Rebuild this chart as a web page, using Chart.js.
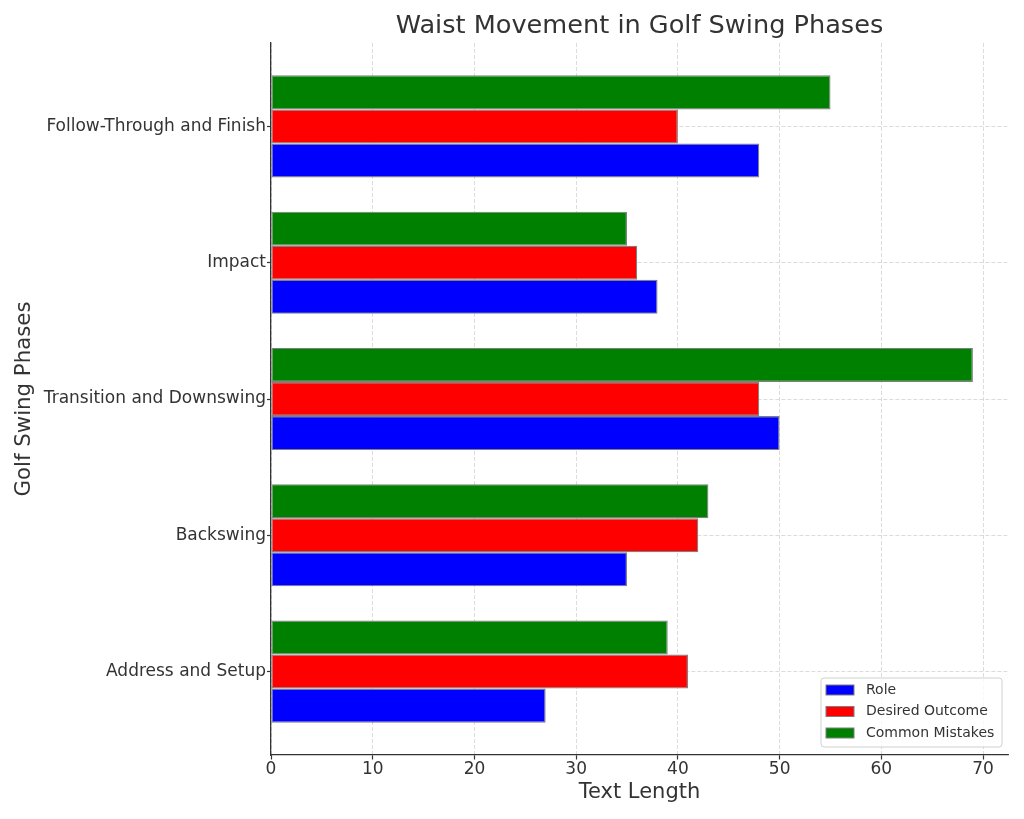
<!DOCTYPE html>
<html>
<head>
<meta charset="utf-8">
<script src="https://cdn.jsdelivr.net/npm/chart.js@4.4.1/dist/chart.umd.min.js"></script>
<style>
html, body { margin: 0; padding: 0; background: #fff; }
#wrap { width: 1024px; height: 819px; }
</style>
</head>
<body>
<div id="wrap"><canvas id="bars"></canvas></div>
<script>
// data, bottom category first
var phases = ['Address and Setup', 'Backswing', 'Transition and Downswing', 'Impact', 'Follow-Through and Finish'];
var role = [27, 35, 50, 38, 48];
var desiredOutcome = [41, 42, 48, 36, 40];
var commonMistakes = [39, 43, 69, 35, 55];
var xTicks = [0, 10, 20, 30, 40, 50, 60, 70];

var FONT = "'DejaVu Sans', sans-serif";
var INK = '#333';

function points(arr) {
    return arr.map(function (v, i) { return { x: v, y: i }; });
}

// title centred over the plot, like matplotlib
var plotTitle = {
    id: 'plotTitle',
    afterDraw: function (chart) {
        var ctx = chart.ctx, a = chart.chartArea;
        ctx.save();
        ctx.font = '25.6px ' + FONT;
        ctx.fillStyle = INK;
        ctx.textAlign = 'center';
        ctx.textBaseline = 'middle';
        ctx.fillText('Waist Movement in Golf Swing Phases', (a.left + a.right) / 2, 26);
        ctx.restore();
    }
};

// boxed legend in the lower right corner of the plot
var boxLegend = {
    id: 'boxLegend',
    afterDraw: function (chart) {
        var ctx = chart.ctx, a = chart.chartArea;
        var w = 181, h = 69;
        var x = a.right - 6 - w, y = a.bottom - 8 - h;
        ctx.save();
        ctx.beginPath();
        ctx.roundRect(x, y, w, h, 3);
        ctx.fillStyle = 'rgba(255,255,255,0.8)';
        ctx.fill();
        ctx.strokeStyle = '#d0d0d0';
        ctx.lineWidth = 1;
        ctx.stroke();
        var sets = chart.data.datasets.slice().reverse();
        ctx.font = '14px ' + FONT;
        ctx.textBaseline = 'middle';
        sets.forEach(function (ds, i) {
            var cy = y + 12 + i * 21.5;
            ctx.fillStyle = ds.backgroundColor;
            ctx.fillRect(x + 5, cy - 5, 28, 10);
            ctx.strokeStyle = '#7f7f7f';
            ctx.strokeRect(x + 5, cy - 5, 28, 10);
            ctx.fillStyle = INK;
            ctx.fillText(ds.label, x + 45, cy);
        });
        ctx.restore();
    }
};

var ctx = document.getElementById('bars').getContext('2d');
var chart = new Chart(ctx, {
    type: 'bar',
    data: {
        datasets: [
            { label: 'Common Mistakes', data: points(commonMistakes), backgroundColor: '#008000' },
            { label: 'Desired Outcome', data: points(desiredOutcome), backgroundColor: '#ff0000' },
            { label: 'Role', data: points(role), backgroundColor: '#0000ff' }
        ]
    },
    options: {
        indexAxis: 'y',
        responsive: true,
        maintainAspectRatio: false,
        animation: false,
        layout: { padding: { top: 43, right: 16, left: 0, bottom: 0 } },
        datasets: {
            bar: {
                categoryPercentage: 0.75,
                barPercentage: 1,
                borderColor: '#7f7f7f',
                borderWidth: 1.2,
                borderSkipped: false
            }
        },
        plugins: {
            legend: { display: false },
            tooltip: { enabled: false },
            title: { display: false }
        },
        scales: {
            x: {
                type: 'linear',
                min: 0,
                max: 72.45,
                z: 1,
                afterBuildTicks: function (s) {
                    s.ticks = xTicks.map(function (v) { return { value: v }; });
                },
                afterFit: function (s) { s.height = 64; },
                grid: { color: '#d3d3d3', lineWidth: 0.8, tickColor: INK, tickLength: 4.5, tickWidth: 1.2 },
                border: { color: INK, width: 1.3, dash: [4, 2] },
                ticks: { color: INK, font: { family: FONT, size: 17 }, padding: 0 },
                title: { display: true, text: 'Text Length', color: INK, font: { family: FONT, size: 21 }, padding: { top: 0, bottom: 14 } }
            },
            y: {
                type: 'linear',
                min: -0.6125,
                max: 4.6125,
                offset: false,
                z: 1,
                afterBuildTicks: function (s) {
                    s.ticks = phases.map(function (p, i) { return { value: i }; });
                },
                afterFit: function (s) { s.width = 271; },
                grid: { offset: false, color: '#d3d3d3', lineWidth: 0.8, tickColor: INK, tickLength: 4, tickWidth: 1.2 },
                border: { color: INK, width: 1.3, dash: [4, 2] },
                ticks: {
                    color: INK,
                    font: { family: FONT, size: 17 },
                    padding: 1,
                    callback: function (v) { return phases[v]; }
                },
                title: { display: true, text: 'Golf Swing Phases', color: INK, font: { family: FONT, size: 21.3 }, padding: { top: 12, bottom: 0 } }
            }
        }
    },
    plugins: [plotTitle, boxLegend]
});
</script>
</body>
</html>
